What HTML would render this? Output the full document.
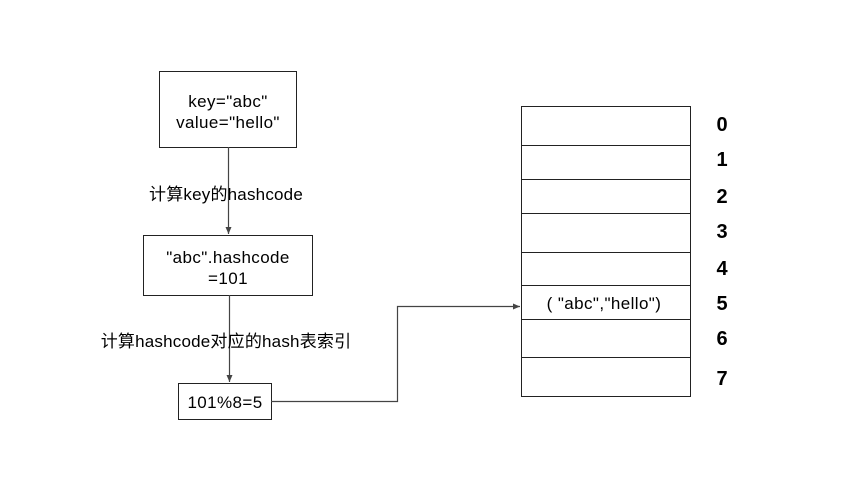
<!DOCTYPE html>
<html><head><style>
body{margin:0;background:#fff;}
svg text{font-family:"Liberation Sans","Noto Sans CJK SC",sans-serif;fill:#000;}
</style></head><body>
<svg width="848" height="494" viewBox="0 0 848 494" xmlns="http://www.w3.org/2000/svg">
<defs><marker id="a" markerWidth="8" markerHeight="8" refX="7" refY="4" orient="auto" markerUnits="userSpaceOnUse"><path d="M0,1 L7,4 L0,7z" fill="#444"/></marker></defs>
<g fill="none" stroke="#222" stroke-width="1">
<rect x="159.5" y="71.5" width="137" height="76"/>
<rect x="143.5" y="235.5" width="169" height="60"/>
<rect x="178.5" y="383.5" width="93" height="36"/>
<rect x="521.5" y="106.5" width="169" height="290"/>
<path d="M521 145.5H690M521 179.5H690M521 213.5H690M521 252.5H690M521 285.5H690M521 319.5H690M521 357.5H690"/>
</g>
<g stroke="#444" fill="none" stroke-width="1.2">
<path d="M228.5 147V234" marker-end="url(#a)"/>
<path d="M229.5 295V382" marker-end="url(#a)"/>
<path d="M271 401.5H397.5V306.5H520" marker-end="url(#a)"/>
</g>
<g font-size="17" text-anchor="middle" letter-spacing="0.4">
<text x="228" y="107">key="abc"</text>
<text x="228" y="128">value="hello"</text>
<text x="228" y="263">"abc".hashcode</text>
<text x="228" y="284">=101</text>
<text x="225" y="408">101%8=5</text>
<text x="604" y="309">( "abc","hello")</text>
</g>
<g font-size="17" text-anchor="middle" letter-spacing="0.2">
<text x="226" y="200">计算key的hashcode</text>
<text x="226" y="347">计算hashcode对应的hash表索引</text>
</g>
<g font-size="20" font-weight="bold" text-anchor="middle">
<text x="722" y="131">0</text>
<text x="722" y="166">1</text>
<text x="722" y="203">2</text>
<text x="722" y="238">3</text>
<text x="722" y="275">4</text>
<text x="722" y="310">5</text>
<text x="722" y="345">6</text>
<text x="722" y="385">7</text>
</g>
</svg>
</body></html>
